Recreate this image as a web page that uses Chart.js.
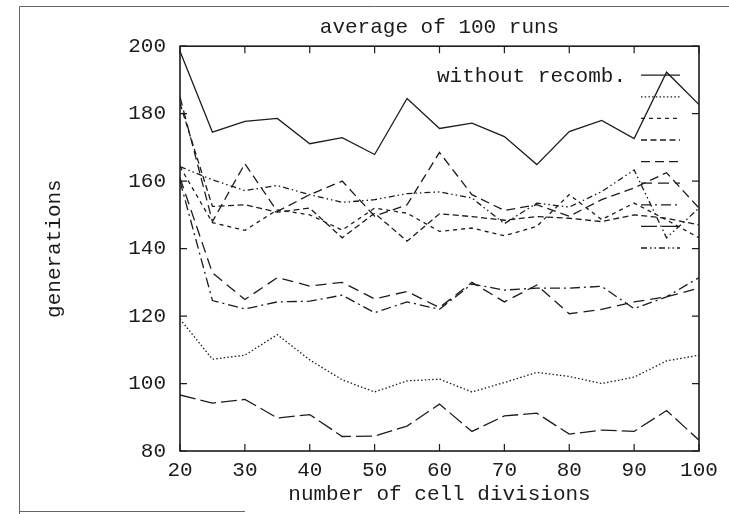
<!DOCTYPE html>
<html><head><meta charset="utf-8">
<script src="https://cdn.jsdelivr.net/npm/chart.js@4/dist/chart.umd.min.js"></script>
<style>html,body{margin:0;padding:0;background:#fff;}canvas{display:block;}</style>
</head><body>
<canvas id="c" width="729" height="514"></canvas>
<script>
// ---- data ----
const cellDivisions = [20,25,30,35,40,45,50,55,60,65,70,75,80,85,90,95,100];
const xTickValues = [20,30,40,50,60,70,80,90,100];
const yTickValues = [80,100,120,140,160,180,200];

const withoutRecomb = [198.5,174.5,177.7,178.6,171.1,172.9,167.9,184.5,175.6,177.2,173.2,164.9,174.7,178.0,172.6,192.3,182.7];
const run2 = [119.1,107.2,108.4,114.5,107.0,101.1,97.5,100.8,101.3,97.5,100.3,103.3,102.1,100.0,101.9,106.7,108.4];
const run3 = [164.3,147.7,145.4,151.5,150.0,145.5,152.0,150.5,145.1,146.1,143.8,146.6,156.0,148.6,153.5,148.5,143.2];
const run4 = [183.0,152.5,153.0,150.8,152.0,143.2,150.5,142.2,150.3,149.5,148.4,149.5,149.0,148.0,150.0,149.0,147.0];
const run5 = [185.0,148.0,165.2,151.0,156.0,160.0,149.6,153.0,168.5,156.0,151.3,153.0,149.6,154.5,158.0,162.5,152.0];
const run6 = [161.0,132.8,124.9,131.4,128.9,130.0,125.1,127.3,122.5,130.0,124.2,129.2,120.7,122.0,124.2,125.7,128.3];
const run7 = [160.0,124.6,122.1,124.2,124.4,126.2,121.0,124.2,122.0,129.5,127.7,128.3,128.3,128.8,122.2,125.7,131.4];
const run8 = [96.6,94.2,95.3,89.8,90.8,84.3,84.4,87.4,93.9,85.8,90.4,91.2,85.0,86.2,85.8,92.0,83.2];
const run9 = [164.3,160.4,157.2,158.7,156.0,153.7,154.5,156.3,156.8,155.0,147.4,153.5,152.3,156.9,163.3,143.2,152.0];

const seriesValues = [withoutRecomb, run2, run3, run4, run5, run6, run7, run8, run9];
const seriesLabels = ['without recomb.', '', '', '', '', '', '', '', ''];

// ---- styles ----
const FONT = "'Liberation Mono', 'DejaVu Sans Mono', monospace";
const INK = '#1c1c1c';
const dashStyles = [[], [1.5,2.2], [4,4], [6,3.5], [9,5], [11,6], [10,4,2,4], [16,5], [6,3,1.5,3,1.5,3]];

const datasets = seriesValues.map((vals, i) => ({
  label: seriesLabels[i],
  data: cellDivisions.map((x, j) => ({x: x, y: vals[j]})),
  borderColor: INK,
  borderWidth: 1.3,
  borderDash: dashStyles[i],
  pointRadius: 0,
  tension: 0,
  fill: false
}));

const gnuplotLook = {
  id: 'gnuplotLook',
  beforeDraw(chart) {
    const ctx = chart.ctx;
    ctx.save();
    ctx.fillStyle = '#fff';
    ctx.fillRect(0, 0, chart.width, chart.height);
    // scanned page frame
    ctx.strokeStyle = '#666';
    ctx.lineWidth = 1;
    ctx.beginPath();
    ctx.moveTo(19.5, chart.height); ctx.lineTo(19.5, 6.5); ctx.lineTo(chart.width, 6.5);
    ctx.moveTo(19.5, 511.5); ctx.lineTo(245, 511.5);
    ctx.stroke();
    ctx.restore();
  },
  afterDatasetsDraw(chart) {
    const ctx = chart.ctx;
    const a = chart.chartArea;
    const xs = chart.scales.x, ys = chart.scales.y;
    ctx.save();
    ctx.strokeStyle = INK;
    ctx.lineWidth = 1.6;
    ctx.setLineDash([]);
    ctx.strokeRect(a.left, a.top, a.right - a.left, a.bottom - a.top);
    ctx.lineWidth = 1.2;
    ctx.beginPath();
    yTickValues.forEach(v => {
      const p = ys.getPixelForValue(v);
      ctx.moveTo(a.left, p); ctx.lineTo(a.left + 7, p);
      ctx.moveTo(a.right, p); ctx.lineTo(a.right - 7, p);
    });
    xTickValues.forEach(v => {
      const p = xs.getPixelForValue(v);
      ctx.moveTo(p, a.bottom); ctx.lineTo(p, a.bottom - 7);
      ctx.moveTo(p, a.top); ctx.lineTo(p, a.top + 7);
    });
    ctx.stroke();
    // gnuplot-style key
    ctx.font = '21px ' + FONT;
    ctx.fillStyle = INK;
    ctx.textAlign = 'right';
    ctx.textBaseline = 'middle';
    chart.data.datasets.forEach((ds, i) => {
      const y = a.top + 29 + i * 21.6;
      if (ds.label) ctx.fillText(ds.label, a.right - 73, y + 1);
      ctx.beginPath();
      ctx.lineWidth = ds.borderWidth;
      ctx.setLineDash(ds.borderDash);
      ctx.moveTo(a.right - 58, y); ctx.lineTo(a.right - 19, y);
      ctx.stroke();
    });
    ctx.restore();
  }
};

new Chart(document.getElementById('c'), {
  type: 'line',
  data: {datasets: datasets},
  plugins: [gnuplotLook],
  options: {
    responsive: false,
    animation: false,
    devicePixelRatio: 1,
    layout: {padding: {left: 0, right: 30, top: 0, bottom: 0}},
    plugins: {
      legend: {display: false},
      tooltip: {enabled: false},
      title: {
        display: true, text: 'average of 100 runs', fullSize: false, color: INK,
        font: {family: FONT, size: 21, weight: 'normal'},
        padding: {top: 15, bottom: 6}
      }
    },
    scales: {
      x: {
        type: 'linear', min: 20, max: 100,
        afterFit: s => { s.height = 63; },
        afterBuildTicks: s => { s.ticks = xTickValues.map(v => ({value: v})); },
        grid: {display: false, drawTicks: false},
        border: {display: false},
        ticks: {color: INK, font: {family: FONT, size: 21}, padding: 7, maxRotation: 0, autoSkip: false},
        title: {display: true, text: 'number of cell divisions', color: INK,
                font: {family: FONT, size: 21}, padding: {top: 0, bottom: 7}}
      },
      y: {
        type: 'linear', min: 80, max: 200,
        afterFit: s => { s.width = 180; },
        afterBuildTicks: s => { s.ticks = yTickValues.map(v => ({value: v})); },
        grid: {display: false, drawTicks: false},
        border: {display: false},
        ticks: {color: INK, font: {family: FONT, size: 21}, padding: 14},
        title: {display: true, text: 'generations', color: INK,
                font: {family: FONT, size: 21}, padding: {top: 42, bottom: 0}}
      }
    }
  }
});
</script>
</body></html>
